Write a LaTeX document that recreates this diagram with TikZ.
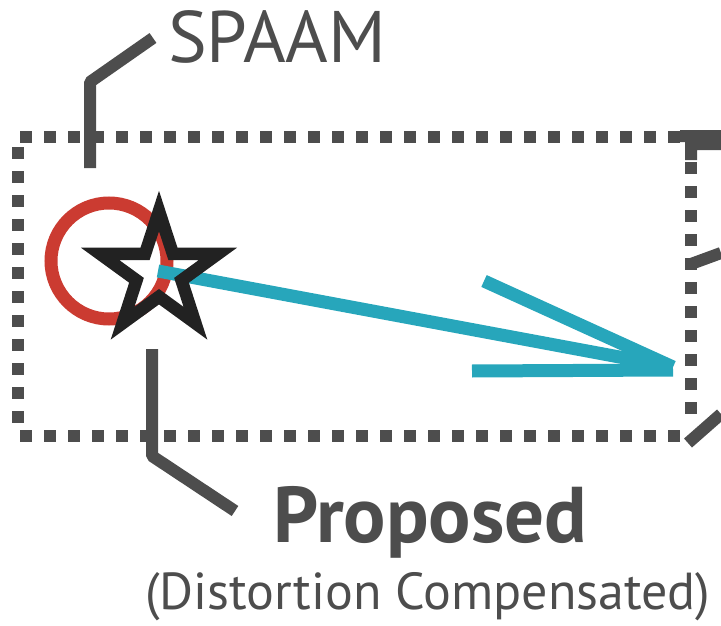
\documentclass[tikz,border=0pt]{standalone}
\usepackage{fontspec}
\setmainfont{PT Sans}
\definecolor{lead}{HTML}{4D4D4D}
\definecolor{ringred}{HTML}{CB3B31}
\definecolor{arrowteal}{HTML}{27A6BB}
\definecolor{starblack}{HTML}{222222}
\begin{document}
\begin{tikzpicture}[x=1pt,y=-1pt,
  leader/.style={draw=lead, line width=12pt, line join=bevel},
  dotsq/.style={fill=lead},
  labeltext/.style={text=lead, inner sep=0pt, anchor=base west},
  arrowline/.style={draw=arrowteal, line width=13pt},
  ringline/.style={draw=ringred, line width=13pt},
  starline/.style={draw=starblack, line width=12.5pt, line join=miter}]
\useasboundingbox (0,0) rectangle (721,626);
% dotted frame
\foreach \k in {0,...,27} {
  \fill[dotsq] ({20+24*\k},131) rectangle +(12,12);
  \fill[dotsq] ({20+24*\k},430) rectangle +(12,12);
}
\foreach \k in {0,...,11} {
  \fill[dotsq] (12,{147+24*\k}) rectangle +(12,12);
  \fill[dotsq] (685,{138+24*\k}) rectangle +(12,12);
}
% SPAAM circle
\coordinate (ringc) at (109,261);
\draw[ringline] (ringc) circle[radius=58];
% arrow
\coordinate (tail) at (158,271);
\coordinate (tip) at (673,367);
\coordinate (barbU) at (484,281);
\coordinate (barbL) at (472,371);
\coordinate (tipL) at (673,370);
\draw[arrowline] (tail) -- (tip);
\draw[arrowline] (barbU) -- (tip);
\draw[arrowline] (barbL) -- (tipL);
% star
\draw[starline] (159,211) -- (172.9,253.8) -- (218.0,253.8) -- (181.5,280.3)
  -- (195.4,323.2) -- (159,296.7) -- (122.6,323.2) -- (136.5,280.3)
  -- (100.0,253.8) -- (145.1,253.8) -- cycle;
% labels
\node[labeltext, font=\fontsize{73}{73}\selectfont] (spaam) at (168,63) {SPAAM};
\node[labeltext, font=\bfseries\fontsize{79}{79}\selectfont] (prop) at (273,542) {Proposed};
\node[labeltext, font=\fontsize{52}{52}\selectfont] (dist) at (145,609) {(Distortion Compensated)};
% leaders
\coordinate (sA) at (90,168);
\coordinate (sB) at (90,82);
\coordinate (sC) at (153,38);
\draw[leader] (sA) -- (sB) -- (sC);
\coordinate (pA) at (152,349);
\coordinate (pB) at (152,456);
\coordinate (pC) at (235,511);
\draw[leader] (pA) -- (pB) -- (pC);
% partial leaders at right edge
\fill[lead] (680,130) -- (721,130) -- (721,150) -- (697,150) -- (697,160)
  -- (685,160) -- (685,142) -- (680,142) -- cycle;
\coordinate (mA) at (691,264);
\coordinate (mB) at (721,253);
\draw[leader] (mA) -- (mB);
\coordinate (bA) at (688,443);
\coordinate (bB) at (721,414);
\draw[leader] (bA) -- (bB);
\end{tikzpicture}
\end{document}
